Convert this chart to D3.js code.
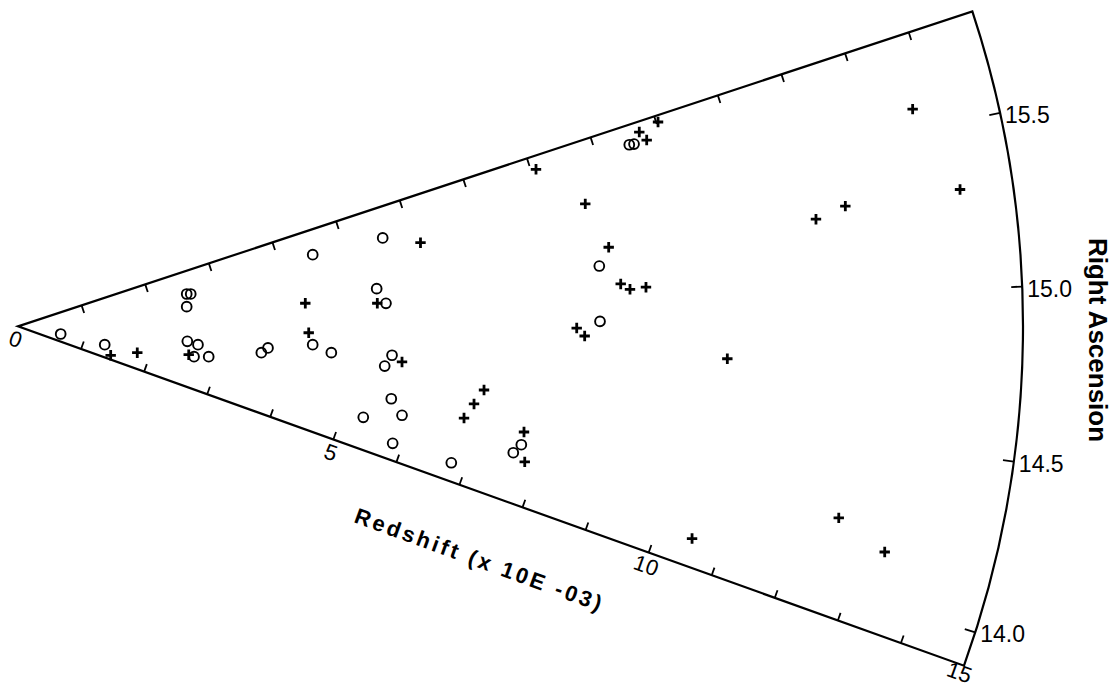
<!DOCTYPE html>
<html><head><meta charset="utf-8">
<script src="https://cdn.jsdelivr.net/npm/d3@7"></script>
<style>html,body{margin:0;padding:0;background:#fff}svg{display:block}</style>
</head><body><svg id="c" width="1116" height="690"></svg>
<script>
// ---------- data ----------
const redshiftRange = [0, 15];            // x 10^-3
const raRange = [13.9, 15.8];             // hours
const redshiftTicks = [0, 5, 10, 15];
const redshiftTickLabels = ["0", "5", "10", "15"];
const redshiftMinorTicks = [1,2,3,4,5,6,7,8,9,10,11,12,13,14];
const raTicks = [14.0, 14.5, 15.0, 15.5];
const raTickLabels = ["14.0", "14.5", "15.0", "15.5"];

const circleRedshift = [0.647,1.323,2.564,2.623,2.535,2.537,2.700,2.666,2.882,3.653,3.745,4.527,4.407,4.693,5.601,5.383,5.503,5.599,5.505,5.675,5.329,5.883,5.858,6.780,7.717,7.629,9.518,9.589,8.723,8.687];
const circleRA =       [14.382,14.290,15.430,15.418,15.220,14.635,14.596,14.398,14.435,14.578,14.640,15.570,14.709,14.647,15.568,15.187,15.066,14.666,14.578,14.338,14.149,14.235,14.020,14.013,14.225,14.171,15.714,15.711,15.183,14.911];

const plusRedshift = [1.449,1.823,2.583,4.302,4.340,6.136,5.374,5.756,7.020,6.904,6.796,7.715,7.829,10.028,9.716,9.787,8.079,8.662,8.895,9.018,9.151,9.391,8.339,8.459,13.741,14.208,12.478,12.017,10.598,10.547,12.579,13.367];
const plusRA =       [14.020,14.265,14.416,15.117,14.824,15.474,15.071,14.622,14.498,14.404,14.306,14.297,14.138,15.772,15.755,15.712,15.730,15.496,15.268,15.088,15.060,15.065,14.878,14.838,15.569,15.300,15.300,15.269,14.756,14.013,14.230,14.157];

// ---------- layout ----------
const DEG = Math.PI / 180;
const apex = [18, 326.4];
const rScale = d3.scaleLinear().domain(redshiftRange).range([0, 1005]);
const aScale = d3.scaleLinear().domain([raRange[1], raRange[0]]).range([-18.27 * DEG, 19.73 * DEG]);
const pos = (z, ra) => { const r = rScale(z), a = aScale(ra); return [r * Math.cos(a), r * Math.sin(a)]; };

const svg = d3.select("#c");
svg.append("rect").attr("width", 1116).attr("height", 690).attr("fill", "#fff");
const g = svg.append("g").attr("transform", `translate(${apex[0]},${apex[1]})`);

// wedge outline
const wedge = d3.arc()
  .innerRadius(0).outerRadius(rScale(redshiftRange[1]))
  .startAngle(aScale(raRange[1]) + Math.PI / 2)
  .endAngle(aScale(raRange[0]) + Math.PI / 2);
g.append("path").attr("d", wedge()).attr("fill", "none")
  .attr("stroke", "#000").attr("stroke-width", 2.2).attr("stroke-linejoin", "miter");

// radial edge ticks
const tickLen = 8;
[[raRange[1], 1], [raRange[0], -1]].forEach(([ra, side]) => {
  const a = aScale(ra);
  const nx = -Math.sin(a) * side, ny = Math.cos(a) * side;
  g.selectAll(null).data(redshiftMinorTicks).enter().append("line")
    .attr("x1", d => pos(d, ra)[0]).attr("y1", d => pos(d, ra)[1])
    .attr("x2", d => pos(d, ra)[0] + nx * tickLen).attr("y2", d => pos(d, ra)[1] + ny * tickLen)
    .attr("stroke", "#000").attr("stroke-width", 1.8);
});

// redshift tick labels along lower edge
const la = aScale(raRange[0]);
const dxA = Math.cos(la), dyA = Math.sin(la);
const pxN = -Math.sin(la), pyN = Math.cos(la);
g.selectAll(null).data(redshiftTicks).enter().append("text")
  .attr("transform", d => {
    const p = pos(d, raRange[0]);
    const last = d === redshiftRange[1];
    const off = last ? 8 : 13, along = last ? -2 : 2;
    const x = p[0] + pxN * off + dxA * along, y = p[1] + pyN * off + dyA * along;
    return `translate(${x},${y}) rotate(${la / DEG})`;
  })
  .attr("text-anchor", "middle").attr("dominant-baseline", "central")
  .attr("font-family", "'Liberation Sans Narrow','Liberation Sans',Arial,sans-serif")
  .attr("font-size", 22).attr("fill", "#000")
  .text((d, i) => redshiftTickLabels[i]);

// RA ticks on arc
const R = rScale(redshiftRange[1]);
g.selectAll(null).data(raTicks).enter().append("line")
  .attr("x1", d => pos(redshiftRange[1], d)[0]).attr("y1", d => pos(redshiftRange[1], d)[1])
  .attr("x2", d => (R - 11) * Math.cos(aScale(d))).attr("y2", d => (R - 11) * Math.sin(aScale(d)))
  .attr("stroke", "#000").attr("stroke-width", 1.8);
g.selectAll(null).data(raTicks).enter().append("text")
  .attr("x", d => pos(redshiftRange[1], d)[0] + 5)
  .attr("y", d => pos(redshiftRange[1], d)[1] + 10)
  .attr("font-family", "'Liberation Sans Narrow','Liberation Sans',Arial,sans-serif")
  .attr("font-size", 23).attr("fill", "#000")
  .text((d, i) => raTickLabels[i]);

// data markers
g.selectAll(null).data(circleRedshift.map((z, i) => pos(z, circleRA[i]))).enter().append("circle")
  .attr("cx", d => d[0]).attr("cy", d => d[1]).attr("r", 4.9)
  .attr("fill", "none").attr("stroke", "#000").attr("stroke-width", 1.9);
g.selectAll(null).data(plusRedshift.map((z, i) => pos(z, plusRA[i]))).enter().append("path")
  .attr("transform", d => `translate(${d[0]},${d[1]})`)
  .attr("d", "M-5.2,0H5.2M0,-5.2V5.2")
  .attr("fill", "none").attr("stroke", "#000").attr("stroke-width", 2.8);

// axis titles
svg.append("text")
  .attr("transform", "translate(1089,340) rotate(90)")
  .attr("text-anchor", "middle")
  .attr("font-family", "'Liberation Sans',Arial,sans-serif").attr("font-weight", "bold")
  .attr("font-size", 26).attr("fill", "#000")
  .text("Right Ascension");
svg.append("text")
  .attr("transform", `translate(353,522) rotate(20)`)
  .attr("text-anchor", "start")
  .attr("font-family", "'Liberation Sans',Arial,sans-serif").attr("font-weight", "bold")
  .attr("font-size", 22).attr("letter-spacing", 3).attr("fill", "#000")
  .text("Redshift (x 10E -03)");
</script></body></html>
